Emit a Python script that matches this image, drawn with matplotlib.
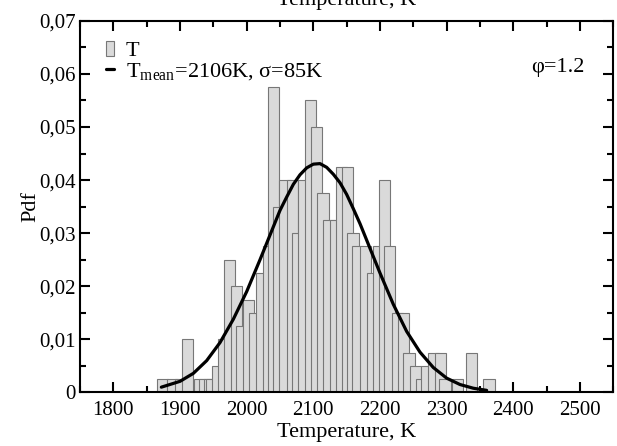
import matplotlib
matplotlib.use("Agg")
import matplotlib.pyplot as plt
from matplotlib.ticker import MultipleLocator, FuncFormatter

# ── data ────────────────────────────────────────
# histogram bars: left edge (K) and pdf height
bar_temps = [1865, 1880, 1893, 1921, 1929, 1936, 1939, 1902.5,
             1948.5, 1957.5, 1966, 1976.5, 1984, 1994, 2004, 2014,
             2024, 2031.5, 2040, 2049, 2060, 2068.5, 2077.5, 2087.5,
             2096.5, 2106, 2115, 2125, 2134, 2143, 2151, 2158,
             2170, 2180, 2190, 2198.5, 2206, 2217.5, 2227, 2235,
             2245, 2254, 2262, 2272, 2282, 2289, 2307.5, 2328.5, 2355]
bar_pdf = [0.0025, 0.0025, 0.0025, 0.0025, 0.0025, 0.0025, 0.0025, 0.010,
           0.005, 0.010, 0.025, 0.020, 0.0125, 0.0175, 0.015, 0.0225,
           0.0275, 0.0575, 0.035, 0.040, 0.040, 0.030, 0.040, 0.055,
           0.050, 0.0375, 0.0325, 0.0325, 0.0425, 0.0425, 0.030, 0.0275,
           0.0275, 0.0225, 0.0275, 0.040, 0.0275, 0.015, 0.015, 0.0075,
           0.005, 0.0025, 0.005, 0.0075, 0.0075, 0.0025, 0.0025, 0.0075, 0.0025]

# fitted normal curve
curve_temps = [1872, 1900, 1920, 1940, 1960, 1980, 2000, 2020, 2040, 2050,
               2060, 2070, 2080, 2090, 2100, 2110, 2120, 2130, 2140, 2150,
               2160, 2170, 2180, 2200, 2220, 2240, 2260, 2280, 2300, 2320,
               2340, 2360]
curve_pdf = [0.0010, 0.0021, 0.0036, 0.0060, 0.0094, 0.0138, 0.0190, 0.0250,
             0.0312, 0.0343, 0.0368, 0.0392, 0.0410, 0.0423, 0.0430, 0.0431,
             0.0424, 0.0411, 0.0395, 0.0373, 0.0346, 0.0318, 0.0287, 0.0225,
             0.0166, 0.0115, 0.0076, 0.0047, 0.0027, 0.0015, 0.0008, 0.0004]

BAR_WIDTH = 17

plt.rcParams["font.family"] = ["Liberation Serif", "DejaVu Serif"]
plt.rcParams["mathtext.fontset"] = "stix"

fig = plt.figure(figsize=(6.17, 4.46), dpi=100)
ax = fig.add_axes([0.1297, 0.12, 0.8643, 0.8334])

bars = ax.bar(bar_temps, bar_pdf, width=BAR_WIDTH, align="edge",
              facecolor="#dadada", edgecolor="#777777", linewidth=0.8,
              label="T", zorder=2)
line, = ax.plot(curve_temps, curve_pdf, color="black", linewidth=2.3,
                solid_joinstyle="round", solid_capstyle="round",
                label=r"T$_{\mathregular{mean}}$=2106K, σ=85K", zorder=3)

ax.set_xlim(1750, 2550)
ax.set_ylim(0, 0.07)

ax.xaxis.set_major_locator(MultipleLocator(100))
ax.xaxis.set_minor_locator(MultipleLocator(50))
ax.yaxis.set_major_locator(MultipleLocator(0.01))
ax.yaxis.set_minor_locator(MultipleLocator(0.005))


def comma_fmt(v, pos):
    if abs(v) < 1e-9:
        return "0"
    return f"{v:.2f}".replace(".", ",")


ax.yaxis.set_major_formatter(FuncFormatter(comma_fmt))

ax.tick_params(which="both", direction="in", top=True, right=True,
               labelsize=15, width=1.5)
ax.tick_params(which="major", length=7)
ax.tick_params(which="minor", length=4)
ax.tick_params(axis="x", pad=6)
ax.tick_params(axis="y", pad=3)
for s in ax.spines.values():
    s.set_linewidth(1.5)

ax.set_xlabel("Temperature, K", fontsize=16, labelpad=2)
ax.set_ylabel("Pdf", fontsize=16, labelpad=-1)

# top axis title (partially cut off in the original)
fig.text(0.1297 + 0.8643 / 2, 1 - 5 / 446, "Temperature, K",
         ha="center", va="baseline", fontsize=16)

ax.text(0.845, 0.875, "φ=1.2", transform=ax.transAxes,
        ha="left", va="center", fontsize=16)

ax.legend([bars, line], [bars.get_label(), line.get_label()],
          loc="upper left", bbox_to_anchor=(0.045, 0.952), frameon=False,
          fontsize=16, handlelength=0.37, handleheight=0.7,
          handletextpad=0.5, labelspacing=0.0, borderaxespad=0.0,
          borderpad=0.1)

fig.savefig("out.png", dpi=100)
